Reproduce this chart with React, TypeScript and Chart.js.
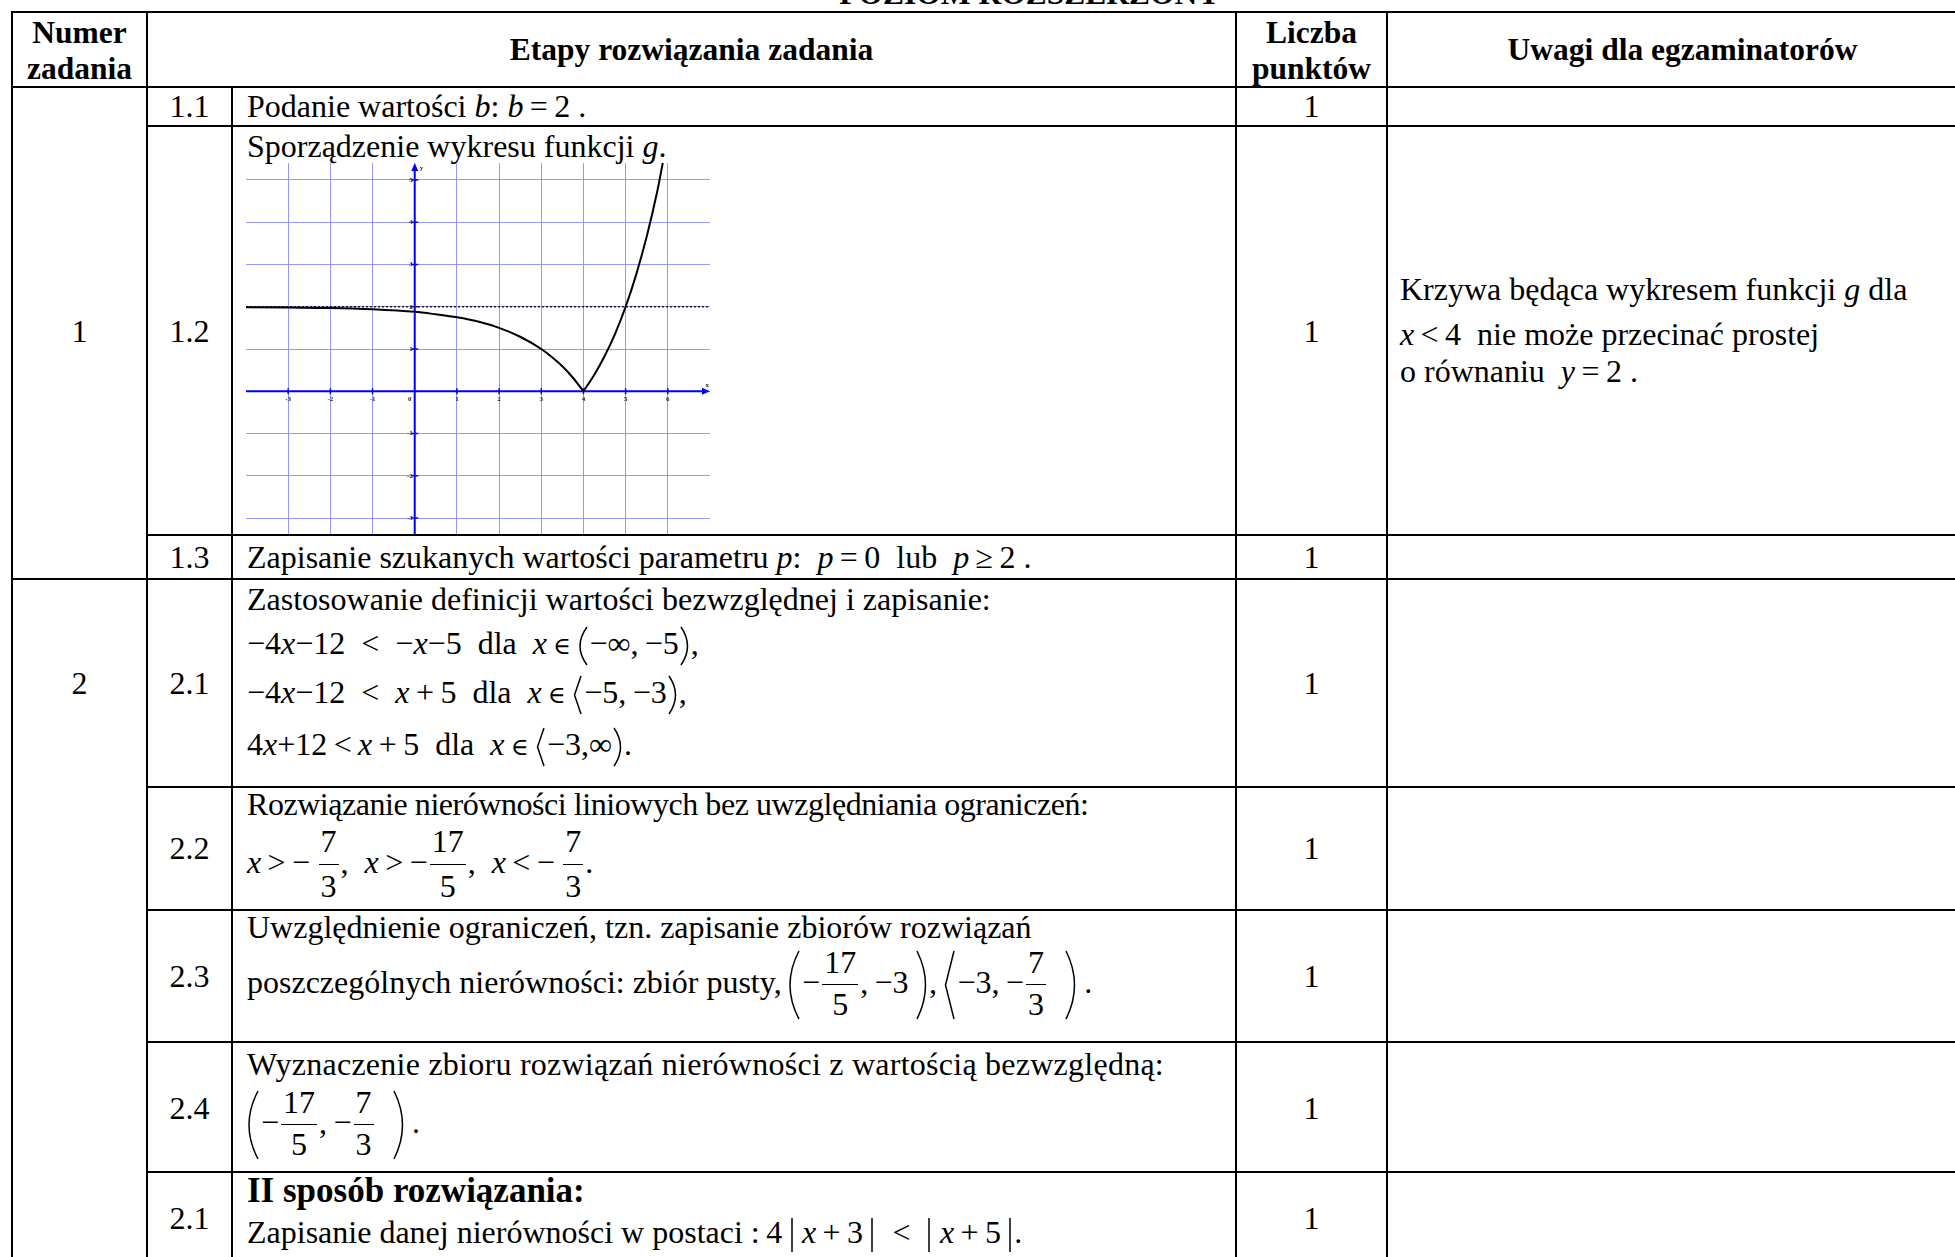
import React, { useEffect, useRef } from "react";
import { Chart, registerables } from "chart.js";

Chart.register(...registerables);

// ---------- data of the graph of g ----------
const X_MIN = -4;
const X_MAX = 7;
const Y_MIN = -3.4;
const Y_MAX = 5.4;
const X_TICKS = [-3, -2, -1, 0, 1, 2, 3, 4, 5, 6];
const Y_TICKS = [-3, -2, -1, 0, 1, 2, 3, 4, 5];
const AXIS_X_LABEL = "x";
const AXIS_Y_LABEL = "y";
const LEFT_X = [-4, -3, -2, -1, 0, 0.5, 1, 1.5, 2, 2.5, 3, 3.25, 3.5, 3.75, 4];
const LEFT_Y = [1.99, 1.98, 1.97, 1.94, 1.88, 1.82, 1.75, 1.65, 1.5, 1.29, 1.0, 0.81, 0.59, 0.32, 0];
const RIGHT_X = [4, 4.25, 4.5, 4.75, 5, 5.25, 5.5, 5.75, 5.88];
const RIGHT_Y = [0, 0.38, 0.83, 1.36, 2.0, 2.76, 3.66, 4.73, 5.4];
const ASYMPTOTE_X = [-4, 7];
const ASYMPTOTE_Y = 2;

const GRID_COLOR = "rgb(150,150,255)";
const AXIS_COLOR = "#0000ff";

const FONT = '"Liberation Serif", "Times New Roman", serif';
const FS = 32;
const B = 0.8375 * FS; // baseline offset in a line box of height FS
const AXIS = 8.5; // math axis above baseline

const axesPlugin = {
  id: "axesAtZero",
  beforeDatasetsDraw(chart: any) {
    const { ctx, chartArea: a } = chart;
    const sx = chart.scales.x;
    const sy = chart.scales.y;
    const x0 = sx.getPixelForValue(0);
    const y0 = sy.getPixelForValue(0);
    ctx.save();
    ctx.strokeStyle = AXIS_COLOR;
    ctx.fillStyle = AXIS_COLOR;
    ctx.lineWidth = 2;
    ctx.beginPath();
    ctx.moveTo(a.left, y0);
    ctx.lineTo(a.right - 5, y0);
    ctx.moveTo(x0, a.bottom);
    ctx.lineTo(x0, a.top + 5);
    ctx.stroke();
    ctx.beginPath();
    ctx.moveTo(a.right, y0);
    ctx.lineTo(a.right - 8, y0 - 3.5);
    ctx.lineTo(a.right - 8, y0 + 3.5);
    ctx.closePath();
    ctx.fill();
    ctx.beginPath();
    ctx.moveTo(x0, a.top);
    ctx.lineTo(x0 - 3.5, a.top + 8);
    ctx.lineTo(x0 + 3.5, a.top + 8);
    ctx.closePath();
    ctx.fill();
    ctx.lineWidth = 1.5;
    ctx.beginPath();
    X_TICKS.forEach((v) => {
      if (v === 0) return;
      const p = sx.getPixelForValue(v);
      ctx.moveTo(p, y0 - 3);
      ctx.lineTo(p, y0 + 3);
    });
    Y_TICKS.forEach((v) => {
      if (v === 0) return;
      const p = sy.getPixelForValue(v);
      ctx.moveTo(x0 - 3.5, p);
      ctx.lineTo(x0 + 3.5, p);
    });
    ctx.stroke();
    ctx.fillStyle = "#222";
    ctx.font = 'bold 7px "Liberation Serif"';
    ctx.textAlign = "center";
    ctx.textBaseline = "top";
    X_TICKS.forEach((v) => {
      const p = v === 0 ? x0 - 5 : sx.getPixelForValue(v);
      ctx.fillText(String(v), p, y0 + 4);
    });
    ctx.textAlign = "right";
    ctx.textBaseline = "middle";
    Y_TICKS.forEach((v) => {
      if (v === 0) return;
      ctx.fillText(String(v), x0 - 2, sy.getPixelForValue(v));
    });
    ctx.textAlign = "left";
    ctx.textBaseline = "top";
    ctx.fillText(AXIS_Y_LABEL, x0 + 5, a.top + 2);
    ctx.textAlign = "right";
    ctx.textBaseline = "bottom";
    ctx.fillText(AXIS_X_LABEL, a.right - 1, y0 - 3);
    ctx.restore();
  },
};

function GraphG() {
  const ref = useRef<HTMLCanvasElement>(null);
  useEffect(() => {
    const chart = new Chart(ref.current as HTMLCanvasElement, {
      type: "line",
      data: {
        datasets: [
          {
            data: LEFT_X.map((x, i) => ({ x, y: LEFT_Y[i] })),
            borderColor: "#000",
            borderWidth: 2,
            pointRadius: 0,
            cubicInterpolationMode: "monotone",
          },
          {
            data: RIGHT_X.map((x, i) => ({ x, y: RIGHT_Y[i] })),
            borderColor: "#000",
            borderWidth: 2,
            pointRadius: 0,
            cubicInterpolationMode: "monotone",
          },
          {
            data: ASYMPTOTE_X.map((x) => ({ x, y: ASYMPTOTE_Y })),
            borderColor: "#222",
            borderWidth: 1.5,
            borderDash: [2, 2],
            pointRadius: 0,
          },
        ],
      } as any,
      options: {
        animation: false,
        responsive: false,
        maintainAspectRatio: false,
        events: [],
        layout: { padding: 0 },
        plugins: { legend: { display: false }, tooltip: { enabled: false } },
        scales: {
          x: {
            type: "linear",
            min: X_MIN,
            max: X_MAX,
            afterBuildTicks: (s: any) => {
              s.ticks = X_TICKS.map((value) => ({ value }));
            },
            ticks: { display: false },
            grid: { color: GRID_COLOR, lineWidth: 1, drawTicks: false },
            border: { display: false },
          },
          y: {
            type: "linear",
            min: Y_MIN,
            max: Y_MAX,
            afterBuildTicks: (s: any) => {
              s.ticks = Y_TICKS.map((value) => ({ value }));
            },
            ticks: { display: false },
            grid: { color: GRID_COLOR, lineWidth: 1, drawTicks: false },
            border: { display: false },
          },
        },
      } as any,
      plugins: [axesPlugin],
    });
    return () => chart.destroy();
  }, []);
  return (
    <canvas
      ref={ref}
      width={464}
      height={372}
      style={{ position: "absolute", left: 246, top: 163, width: 464, height: 372 }}
    />
  );
}

// ---------- text helpers ----------
function T({ x, base, children, bold = false, center = false, size = FS, ls = 0 }: any) {
  const b = 0.8375 * size;
  const style: React.CSSProperties = {
    position: "absolute",
    left: x,
    top: base - b,
    whiteSpace: "nowrap",
    fontSize: size,
    lineHeight: size + "px",
    fontWeight: bold ? "bold" : "normal",
    letterSpacing: ls,
  };
  if (center) style.transform = "translateX(-50%)";
  return <div style={style}>{children}</div>;
}

function Frac({ n, d, up = 11.5, down = 30 }: any) {
  const wide = n.length >= d.length ? n : d;
  const axis = B - AXIS;
  return (
    <span style={{ display: "inline-block", position: "relative", padding: "0 4px" }}>
      <span style={{ visibility: "hidden" }}>{wide}</span>
      <span style={{ position: "absolute", left: 0, right: 0, textAlign: "center", top: axis - up - B }}>{n}</span>
      <span style={{ position: "absolute", left: 2, right: 2, top: axis - 0.75, height: 1.5, background: "#000" }} />
      <span style={{ position: "absolute", left: 0, right: 0, textAlign: "center", top: axis + down - B }}>{d}</span>
    </span>
  );
}

function Delim({ k, h, w = 9 }: any) {
  let d = "";
  if (k === "(") d = `M ${w - 1} 1 Q ${3 - w} ${h / 2} ${w - 1} ${h - 1}`;
  if (k === ")") d = `M 1 1 Q ${2 * w - 4} ${h / 2} 1 ${h - 1}`;
  if (k === "<") d = `M ${w - 1} 1 L 1.5 ${h / 2} L ${w - 1} ${h - 1}`;
  if (k === "|") d = `M ${w / 2} 1 L ${w / 2} ${h - 1}`;
  return (
    <span style={{ display: "inline-block", position: "relative", width: w + 3, height: 0 }}>
      <svg style={{ position: "absolute", left: 1, top: -AXIS - h / 2 }} width={w} height={h}>
        <path d={d} fill="none" stroke="#000" strokeWidth={1.5} />
      </svg>
    </span>
  );
}

const I = ({ children }: any) => <i>{children}</i>;
const In = () => (
  <span style={{ fontFamily: '"DejaVu Serif", serif', fontSize: 24 }}>∈</span>
);
const ts = "\u2009";
const es = "\u2002";

// ---------- table geometry ----------
const V_LINES = [
  [12, 12, 1300],
  [147, 12, 1300],
  [232, 87, 1300],
  [1236, 12, 1300],
  [1387, 12, 1300],
  [1978, 12, 1300],
];
const H_LINES = [
  [12, 12, 1978],
  [87, 12, 1978],
  [126, 147, 1978],
  [535, 147, 1978],
  [579, 12, 1978],
  [787, 147, 1978],
  [910, 147, 1978],
  [1042, 147, 1978],
  [1172, 147, 1978],
  [1262, 12, 1978],
];

const C1 = 79.5;
const C2 = 189.5;
const C4 = 1311.5;
const TX = 247;

export default function App() {
  return (
    <div
      style={{
        position: "fixed",
        left: 0,
        top: 0,
        width: 1955,
        height: 1257,
        overflow: "hidden",
        background: "#fff",
        color: "#000",
        fontFamily: FONT,
        fontSize: FS,
      }}
    >
      <div
        style={{
          position: "absolute",
          left: 0,
          width: 1220,
          textAlign: "right",
          top: 4 - 0.8375 * 31.5,
          fontSize: 31.5,
          lineHeight: "31.5px",
          fontWeight: "bold",
          whiteSpace: "nowrap",
        }}
      >
        POZIOM ROZSZERZONY
      </div>

      {/* header */}
      <T x={C1} base={43} bold center size={31.5}>Numer</T>
      <T x={C1} base={79} bold center size={31.5}>zadania</T>
      <T x={691.5} base={60} bold center size={31.5}>Etapy rozwiązania zadania</T>
      <T x={C4} base={43} bold center size={31.5}>Liczba</T>
      <T x={C4} base={79} bold center size={31.5}>punktów</T>
      <T x={1682.5} base={60} bold center size={31.5}>Uwagi dla egzaminatorów</T>

      {/* 1.1 */}
      <T x={C2} base={117} center>1.1</T>
      <T x={TX} base={117}>
        Podanie wartości <I>b</I>: <I>b</I>{ts}={ts}2 .
      </T>
      <T x={C4} base={117} center>1</T>

      {/* 1.2 */}
      <T x={C1} base={342} center>1</T>
      <T x={C2} base={342} center>1.2</T>
      <T x={TX} base={157}>
        Sporządzenie wykresu funkcji <I>g</I>.
      </T>
      <GraphG />
      <T x={C4} base={342} center>1</T>
      <T x={1400} base={300}>
        Krzywa będąca wykresem funkcji <I>g</I> dla
      </T>
      <T x={1400} base={345}>
        {" "}<I>x</I>{ts}&lt;{ts}4{es}nie może przecinać prostej
      </T>
      <T x={1400} base={382}>
        o równaniu{es}<I>y</I>{ts}={ts}2 .
      </T>

      {/* 1.3 */}
      <T x={C2} base={568} center>1.3</T>
      <T x={TX} base={568}>
        Zapisanie szukanych wartości parametru <I>p</I>:{es}<I>p</I>{ts}={ts}0{es}lub{es}<I>p</I>{ts}≥{ts}2 .
      </T>
      <T x={C4} base={568} center>1</T>

      {/* 2.1 */}
      <T x={C1} base={694} center>2</T>
      <T x={C2} base={694} center>2.1</T>
      <T x={TX} base={610}>Zastosowanie definicji wartości bezwzględnej i zapisanie:</T>
      <T x={TX} base={654}>
        −4<I>x</I>−12{es}&lt;{es}−<I>x</I>−5{es}dla{es}<I>x</I>{ts}<In />{ts}
        <Delim k="(" h={40} />−∞,{ts}−5<Delim k=")" h={40} />,
      </T>
      <T x={TX} base={703}>
        −4<I>x</I>−12{es}&lt;{es}<I>x</I>{ts}+{ts}5{es}dla{es}<I>x</I>{ts}<In />{ts}
        <Delim k="<" h={40} />−5,{ts}−3<Delim k=")" h={40} />,
      </T>
      <T x={TX} base={755}>
        4<I>x</I>+12{ts}&lt;{ts}<I>x</I>{ts}+{ts}5{es}dla{es}<I>x</I>{ts}<In />{ts}
        <Delim k="<" h={40} />−3,∞<Delim k=")" h={40} />.
      </T>
      <T x={C4} base={694} center>1</T>

      {/* 2.2 */}
      <T x={C2} base={859} center>2.2</T>
      <T x={TX} base={815} ls={-0.45}>
        Rozwiązanie nierówności liniowych bez uwzględniania ograniczeń:
      </T>
      <T x={TX} base={873}>
        <I>x</I>{ts}&gt;{ts}−{ts}<Frac n="7" d="3" up={12.5} down={32.5} />,{es}<I>x</I>{ts}&gt;{ts}−
        <Frac n="17" d="5" up={12.5} down={32.5} />,{es}<I>x</I>{ts}&lt;{ts}−{ts}
        <Frac n="7" d="3" up={12.5} down={32.5} />.
      </T>
      <T x={C4} base={859} center>1</T>

      {/* 2.3 */}
      <T x={C2} base={987} center>2.3</T>
      <T x={TX} base={938}>Uwzględnienie ograniczeń, tzn. zapisanie zbiorów rozwiązań</T>
      <T x={TX} base={993}>
        poszczególnych nierówności: zbiór pusty,{ts}
        <Delim k="(" h={70} w={11} />−<Frac n="17" d="5" />,{ts}−3{ts}<Delim k=")" h={70} w={11} />,{ts}
        <Delim k="<" h={70} w={11} />−3,{ts}−<Frac n="7" d="3" />
        {es}<Delim k=")" h={70} w={11} />{ts}.
      </T>
      <T x={C4} base={987} center>1</T>

      {/* 2.4 */}
      <T x={C2} base={1119} center>2.4</T>
      <T x={TX} base={1075} ls={0.25}>
        Wyznaczenie zbioru rozwiązań nierówności z wartością bezwzględną:
      </T>
      <T x={TX} base={1133}>
        <Delim k="(" h={70} w={11} />−<Frac n="17" d="5" />,{ts}−<Frac n="7" d="3" />
        {es}<Delim k=")" h={70} w={11} />{ts}.
      </T>
      <T x={C4} base={1119} center>1</T>

      {/* 2.1 II */}
      <T x={C2} base={1229} center>2.1</T>
      <T x={TX} base={1202} bold size={35}>II sposób rozwiązania:</T>
      <T x={TX} base={1243}>
        Zapisanie danej nierówności w postaci :{ts}4{ts}<Delim k="|" h={36} w={4} />{ts}
        <I>x</I>{ts}+{ts}3{ts}<Delim k="|" h={36} w={4} />{es}&lt;{es}<Delim k="|" h={36} w={4} />{ts}
        <I>x</I>{ts}+{ts}5{ts}<Delim k="|" h={36} w={4} />.
      </T>
      <T x={C4} base={1229} center>1</T>

      {/* table lines */}
      {V_LINES.map(([x, y1, y2], i) => (
        <div
          key={"v" + i}
          style={{ position: "absolute", left: x - 1, top: y1 - 1, width: 2, height: y2 - y1 + 2, background: "#000" }}
        />
      ))}
      {H_LINES.map(([y, x1, x2], i) => (
        <div
          key={"h" + i}
          style={{ position: "absolute", left: x1 - 1, top: y - 1, width: x2 - x1 + 2, height: 2, background: "#000" }}
        />
      ))}
    </div>
  );
}
